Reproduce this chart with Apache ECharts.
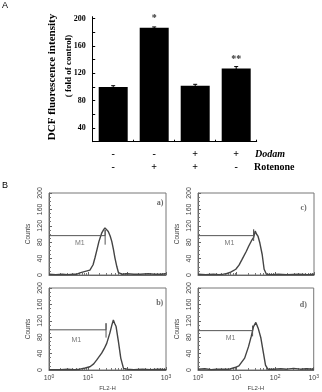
<!DOCTYPE html>
<html>
<head>
<meta charset="utf-8">
<style>
html, body { margin: 0; padding: 0; background: #fff; }
#chart { width: 322px; height: 392px; }
</style>
<script src="https://cdn.jsdelivr.net/npm/echarts@6/dist/echarts.min.js"></script>
</head>
<body>
<div id="chart"></div>
<script>
// ---- panel A: DCF fluorescence (fold of control) ----
var groups = ["control", "rotenone", "dodam+rotenone", "dodam"];
var dodam = ["-", "-", "+", "+"];
var rotenone = ["-", "+", "+", "-"];
var dcfMean = [100, 187, 102, 127];
var dcfErr = [2, 1, 2, 3];
var signif = ["", "*", "", "**"];
var dcfTicks = [40, 80, 120, 160, 200];

// ---- panel B: FL2-H histograms, [FL2-H, counts] ----
var histA = [[1, 2], [1.5, 1], [2.2, 2], [3, 1], [4.2, 2], [5.2, 2], [6.2, 5], [8.5, 9], [11.2, 12], [13.5, 25], [15.1, 42], [17, 62], [19.1, 82], [22.4, 102], [25, 110], [27.2, 115], [30, 111], [33.1, 106], [37, 95], [40.7, 82], [45, 62], [49, 42], [55, 20], [60.3, 6], [74, 2], [100, 3], [150, 2], [220, 2], [350, 3], [500, 2], [750, 2], [1000, 3]];
var histB = [[1, 1], [2, 1], [3, 2], [4.5, 1], [6.2, 2], [8.5, 5], [11.2, 8], [14, 15], [16.6, 24], [22.4, 41], [26, 52], [30.2, 65], [36.3, 90], [41, 110], [44.7, 122], [48, 114], [52.5, 106], [60.3, 69], [69.2, 29], [81.3, 4], [100, 2], [150, 1], [250, 2], [400, 1], [650, 2], [1000, 1]];
var histC = [[1, 2], [1.6, 1], [2.5, 2], [3.5, 1], [4.5, 2], [5.4, 3], [7, 7], [9.5, 14], [11.5, 24], [13.8, 38], [17.8, 58], [20.4, 70], [24, 83], [27.5, 92], [30.2, 107], [32.5, 100], [35.5, 95], [39.8, 78], [45.7, 50], [51.3, 14], [58.9, 2], [80, 1], [120, 2], [200, 1], [400, 2], [700, 1], [1000, 2]];
var histD = [[1, 2], [1.5, 3], [2.2, 1], [3, 2], [4.5, 2], [6.5, 2], [9, 6], [11.5, 10], [16.2, 29], [20.4, 57], [24, 82], [27.5, 106], [31.6, 116], [36.3, 102], [42.7, 78], [49, 45], [56.2, 12], [64.6, 2], [90, 2], [140, 3], [200, 2], [300, 4], [450, 2], [650, 3], [1000, 2]];
// M1 gate: end of marker, level, tick top, tick bottom
var gateA = [27.5, 96, 110, 74];
var gateB = [29, 98, 114, 79];
var gateC = [27.5, 96, 111, 83];
var gateD = [26, 96, 108, 82];

var serif = "Liberation Serif";
var sans = "Liberation Sans";

var panels = [
  { tag: "a)", hist: histA, gate: gateA, grid: { left: 49, top: 193, width: 117, height: 82 }, bottom: false, tagAt: [700, 175], m1At: [6.2, 79] },
  { tag: "c)", hist: histC, gate: gateC, grid: { left: 198, top: 193, width: 116, height: 82 }, bottom: false, tagAt: [540, 164], m1At: [6.5, 79] },
  { tag: "b)", hist: histB, gate: gateB, grid: { left: 49, top: 288, width: 117, height: 82 }, bottom: true, tagAt: [690, 163], m1At: [5, 73] },
  { tag: "d)", hist: histD, gate: gateD, grid: { left: 198, top: 288, width: 116, height: 82 }, bottom: true, tagAt: [540, 159], m1At: [7, 78] }
];

var grids = [{ left: 92.7, top: 16.7, width: 164, height: 125 }];
var xAxes = [{
  gridIndex: 0,
  type: "category",
  data: groups,
  axisLine: { lineStyle: { color: "#000", width: 1 } },
  axisTick: { show: true, inside: true, length: 2, lineStyle: { color: "#000" } },
  axisLabel: {
    margin: 6,
    formatter: function (v, i) { return "{s|" + dodam[i] + "}\n{s|" + rotenone[i] + "}"; },
    rich: { s: { fontFamily: serif, fontWeight: "bold", fontSize: 10, lineHeight: 13, color: "#000" } }
  }
}];
var yAxes = [{
  gridIndex: 0,
  type: "value",
  min: 20,
  max: 203,
  interval: 20,
  splitLine: { show: false },
  axisLine: { show: true, lineStyle: { color: "#000" } },
  axisTick: { show: true, inside: true, length: 2.5, lineStyle: { color: "#000" } },
  axisLabel: {
    margin: 7,
    fontFamily: serif, fontWeight: "bold", fontSize: 8, color: "#000",
    showMaxLabel: false,
    formatter: function (v) { return dcfTicks.indexOf(v) >= 0 ? String(v) : ""; }
  }
}];

var series = [
  {
    type: "bar",
    xAxisIndex: 0, yAxisIndex: 0,
    data: dcfMean,
    barWidth: 29,
    itemStyle: { color: "#000" },
    label: {
      show: true, position: "top", distance: 4,
      fontFamily: serif, fontWeight: "bold", fontSize: 10, color: "#333",
      formatter: function (p) { return signif[p.dataIndex]; }
    }
  },
  {
    type: "custom",
    xAxisIndex: 0, yAxisIndex: 0,
    z: 3,
    data: dcfMean.map(function (m, i) { return [i, m - dcfErr[i], m + dcfErr[i]]; }),
    renderItem: function (params, api) {
      var lo = api.coord([api.value(0), api.value(1)]);
      var hi = api.coord([api.value(0), api.value(2)]);
      return {
        type: "group",
        children: [
          { type: "line", shape: { x1: hi[0], y1: hi[1], x2: lo[0], y2: lo[1] }, style: { stroke: "#000", lineWidth: 1 } },
          { type: "line", shape: { x1: hi[0] - 2, y1: hi[1], x2: hi[0] + 2, y2: hi[1] }, style: { stroke: "#000", lineWidth: 1 } }
        ]
      };
    }
  }
];

panels.forEach(function (p, k) {
  var gi = k + 1;
  grids.push(Object.assign({ show: true, borderColor: "#777", borderWidth: 1, backgroundColor: "transparent" }, p.grid));
  xAxes.push({
    gridIndex: gi,
    type: "log",
    logBase: 10,
    min: 1,
    max: 1000,
    splitLine: { show: false },
    axisLine: { lineStyle: { color: "#666" } },
    axisTick: { show: true, inside: true, length: 3, lineStyle: { color: "#666" } },
    minorTick: { show: true, splitNumber: 9, length: 2, lineStyle: { color: "#777" } },
    axisLabel: {
      show: p.bottom,
      margin: 4,
      color: "#444",
      formatter: function (v) { return "10{s|" + Math.round(Math.log10(v)) + "}"; },
      fontFamily: sans, fontSize: 7,
      rich: { s: { fontFamily: sans, fontSize: 5, verticalAlign: "top", padding: [0, 0, 4, 0], color: "#444" } }
    },
    name: p.bottom ? "FL2-H" : "",
    nameLocation: "middle",
    nameGap: 15,
    nameTextStyle: { fontFamily: sans, fontSize: 6, color: "#444" }
  });
  yAxes.push({
    gridIndex: gi,
    type: "value",
    min: 0,
    max: 200,
    interval: 40,
    splitLine: { show: false },
    axisLine: { show: true, lineStyle: { color: "#666" } },
    axisTick: { show: true, inside: true, length: 3, lineStyle: { color: "#666" } },
    minorTick: { show: true, splitNumber: 4, length: 2, lineStyle: { color: "#777" } },
    axisLabel: { rotate: 90, margin: 5, fontFamily: sans, fontSize: 7, color: "#444" },
    name: "Counts",
    nameLocation: "middle",
    nameGap: 17,
    nameTextStyle: { fontFamily: sans, fontSize: 6.5, color: "#444" }
  });
  series.push({
    type: "line",
    xAxisIndex: gi, yAxisIndex: gi,
    data: p.hist,
    symbol: "none",
    lineStyle: { color: "#444", width: 1.4 }
  });
  series.push({
    type: "line",
    xAxisIndex: gi, yAxisIndex: gi,
    data: [[1, p.gate[1]], [p.gate[0], p.gate[1]], [p.gate[0], p.gate[2]], [p.gate[0], p.gate[3]]],
    symbol: "none",
    lineStyle: { color: "#555", width: 1 }
  });
  series.push({
    type: "scatter",
    xAxisIndex: gi, yAxisIndex: gi,
    symbolSize: 0,
    data: [
      { value: p.m1At, label: { formatter: "M1", fontFamily: sans, fontSize: 7, color: "#555" } },
      { value: p.tagAt, label: { formatter: p.tag, fontFamily: serif, fontWeight: "bold", fontSize: 8, color: "#444" } }
    ],
    label: { show: true, position: "inside" }
  });
});

var chart = echarts.init(document.getElementById("chart"), null, { renderer: "canvas" });
chart.setOption({
  animation: false,
  backgroundColor: "#fff",
  grid: grids,
  xAxis: xAxes,
  yAxis: yAxes,
  series: series,
  graphic: [
    { type: "text", left: 2, top: 1, style: { text: "A", font: "9px " + sans, fill: "#000" } },
    { type: "text", left: 2, top: 181, style: { text: "B", font: "9px " + sans, fill: "#000" } },
    { type: "text", x: 52, y: 77, rotation: Math.PI / 2, style: { text: "DCF fluorescence intensity", font: "bold 11px " + serif, fill: "#000", align: "center", verticalAlign: "middle" } },
    { type: "text", x: 68.5, y: 66, rotation: Math.PI / 2, style: { text: "( fold of control)", font: "bold 9px " + serif, fill: "#000", align: "center", verticalAlign: "middle" } },
    { type: "text", x: 255, y: 154, style: { text: "Dodam", font: "italic bold 10px " + serif, fill: "#000", verticalAlign: "middle" } },
    { type: "text", x: 254, y: 167, style: { text: "Rotenone", font: "bold 10px " + serif, fill: "#000", verticalAlign: "middle" } }
  ]
});
</script>
</body>
</html>
